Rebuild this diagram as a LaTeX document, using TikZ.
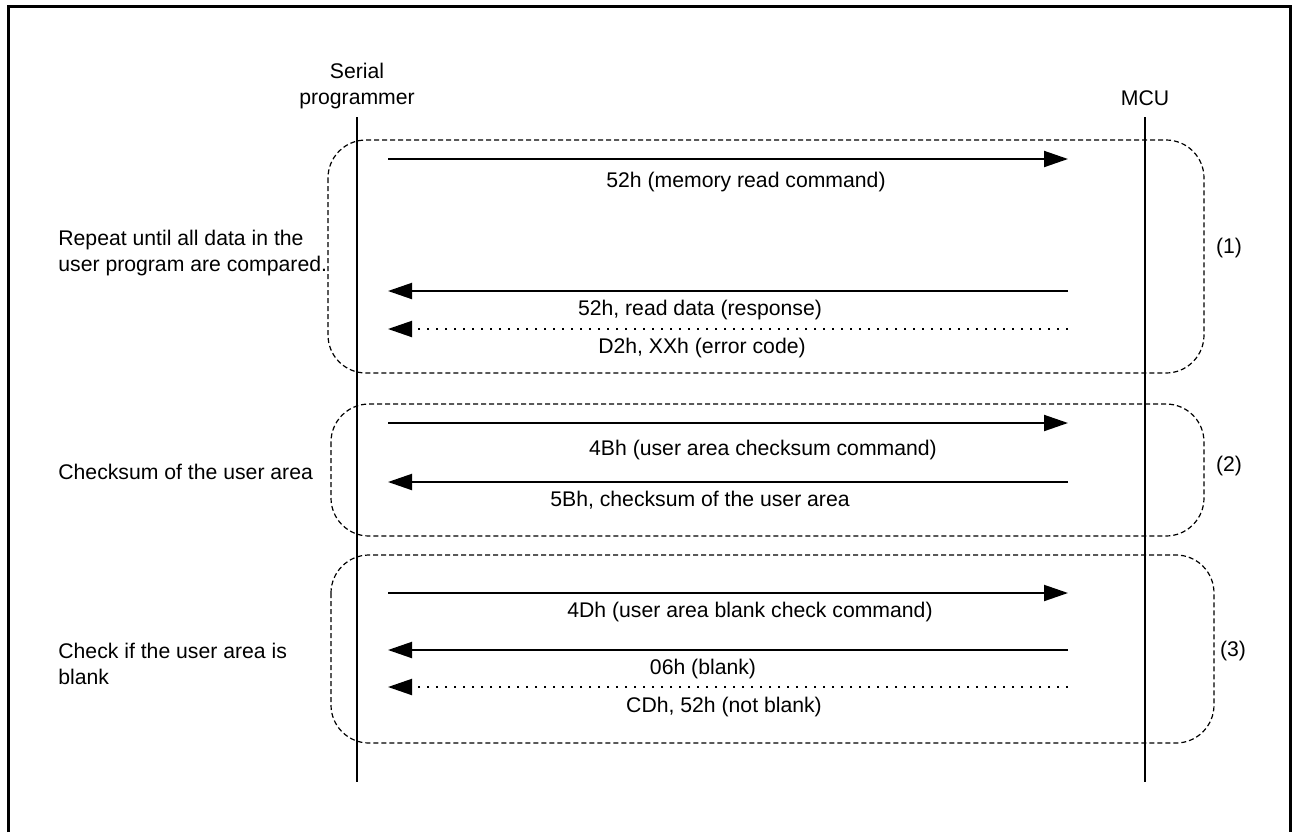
\documentclass[tikz,border=0pt]{standalone}
\usepackage{fontspec}
\setmainfont{Liberation Sans}
\usetikzlibrary{arrows.meta}
\tikzset{
  msg/.style={line width=1pt,-{Triangle[length=12pt,width=8pt]}},
  altmsg/.style={msg,dash pattern=on 1pt off 3.5pt},
  grp/.style={dashed,dash pattern=on 2.5pt off 1.5pt,line width=.6pt,rounded corners=19pt},
  txt/.style={inner sep=0pt,font=\fontsize{10.6}{12.8}\selectfont}
}
\begin{document}
\begin{tikzpicture}[x=.5pt,y=-.5pt,line cap=butt]
  \useasboundingbox (0,0) rectangle (1292,832);
  \draw[line width=1.5pt] (8.5,832)--(8.5,6)--(1290.5,6)--(1290.5,832);
  % lifelines
  \coordinate (P0) at (357,117); \coordinate (P1) at (357,782); \coordinate (M0) at (1145,117); \coordinate (M1) at (1145,782);
  \draw[line width=1pt] (P0)--(P1) (M0)--(M1);
  \node[txt,align=center] (prog) at (357,86) {Serial\\programmer};
  \node[txt] (mcu) at (1145,98) {MCU};
  % groups
  \draw[grp] (328,140) rectangle (1204,373);
  \draw[grp] (331,404) rectangle (1204,536);
  \draw[grp] (331,555) rectangle (1214,743);
  \node[txt] (g1) at (1229,248) {(1)}; \node[txt] (g2) at (1229,466) {(2)}; \node[txt] (g3) at (1233,651) {(3)};
  \node[txt,anchor=west,align=left] (rep) at (58,253) {Repeat until all data in the\\user program are compared.};
  \node[txt,anchor=west] (sum) at (58,472) {Checksum of the user area};
  \node[txt,anchor=west,align=left] (blk) at (58,664) {Check if the user area is\\blank};
  % messages
  \coordinate (a1) at (388,159); \coordinate (b1) at (1068,159);
  \coordinate (a2) at (388,291); \coordinate (b2) at (1068,291);
  \coordinate (a3) at (388,329); \coordinate (b3) at (1068,329);
  \coordinate (a4) at (388,423); \coordinate (b4) at (1068,423);
  \coordinate (a5) at (388,482); \coordinate (b5) at (1068,482);
  \coordinate (a6) at (388,593); \coordinate (b6) at (1068,593);
  \coordinate (a7) at (388,650); \coordinate (b7) at (1068,650);
  \coordinate (a8) at (388,687); \coordinate (b8) at (1068,687);
  \draw[msg] (a1)--(b1); \draw[msg] (b2)--(a2); \draw[altmsg] (b3)--(a3);
  \draw[msg] (a4)--(b4); \draw[msg] (b5)--(a5);
  \draw[msg] (a6)--(b6); \draw[msg] (b7)--(a7); \draw[altmsg] (b8)--(a8);
  \node[txt] (l1) at (746,182) {52h (memory read command)};
  \node[txt] (l2) at (700,310) {52h, read data (response)};
  \node[txt] (l3) at (702,348) {D2h, XXh (error code)};
  \node[txt] (l4) at (763,450) {4Bh (user area checksum command)};
  \node[txt] (l5) at (700,500) {5Bh, checksum of the user area};
  \node[txt] (l6) at (750,612) {4Dh (user area blank check command)};
  \node[txt] (l7) at (703,669) {06h (blank)};
  \node[txt] (l8) at (724,707) {CDh, 52h (not blank)};
\end{tikzpicture}
\end{document}
